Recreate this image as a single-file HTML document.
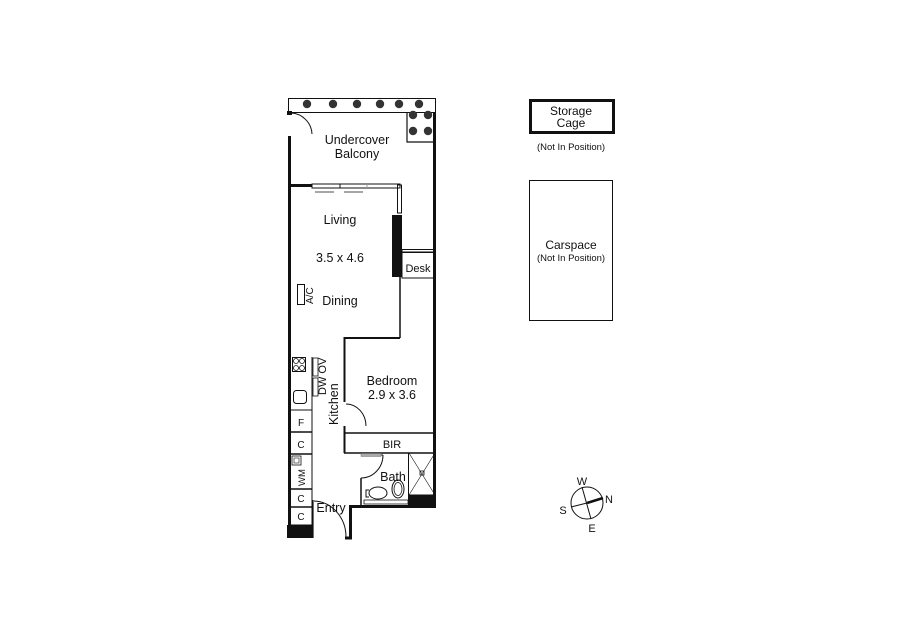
<!DOCTYPE html>
<html><head><style>
html,body{margin:0;padding:0;background:#fff;width:900px;height:635px;overflow:hidden}
svg{display:block}
text{font-family:"Liberation Sans",Arial,sans-serif;fill:#111}
</style></head><body>
<svg width="900" height="635" viewBox="0 0 900 635" xmlns="http://www.w3.org/2000/svg">
<g fill="none" stroke="#111">
<rect x="288.5" y="98.5" width="147" height="14" stroke-width="1"/>
<polyline points="407,112 407,142 435,142" stroke-width="1.2"/>
<line x1="289.5" y1="136" x2="289.5" y2="538" stroke-width="3"/>
<rect x="287" y="111" width="5" height="4" fill="#111" stroke="none"/>
<path d="M291 113 A22 22 0 0 1 312 134" stroke-width="1"/>
<line x1="434.5" y1="112" x2="434.5" y2="508" stroke-width="3"/>
<line x1="290" y1="185.5" x2="312" y2="185.5" stroke-width="3"/>
<rect x="312" y="184" width="88" height="4" stroke-width="1"/>
<line x1="340" y1="184" x2="340" y2="188" stroke-width="1"/>
<line x1="367" y1="184" x2="367" y2="188" stroke-width="1" stroke="#999"/>
<rect x="397.5" y="185" width="4" height="28" stroke-width="1"/>
<line x1="315" y1="192" x2="334" y2="192" stroke-width="0.8"/>
<line x1="344" y1="192" x2="363" y2="192" stroke-width="0.8"/>
<line x1="400" y1="277" x2="400" y2="338" stroke-width="1.5"/>
<polyline points="400,338 344.5,338 344.5,402" stroke-width="2"/>
<path d="M346 404 A20 22 0 0 1 366 426" stroke-width="1"/>
<line x1="344.5" y1="426" x2="344.5" y2="453" stroke-width="2"/>
<rect x="402" y="249.5" width="32" height="3" stroke-width="1"/>
<rect x="402" y="252" width="32" height="26" stroke-width="1"/>
<line x1="344" y1="433" x2="436" y2="433" stroke-width="1.5"/>
<line x1="344" y1="453" x2="436" y2="453" stroke-width="1.5"/>
<line x1="361" y1="478" x2="361" y2="507" stroke-width="1.5"/>
<path d="M361 455 L383 455 M361 478 A22 23 0 0 0 383 455" stroke-width="1"/>
<rect x="361" y="453.5" width="20" height="3" fill="#aaa" stroke="#777" stroke-width="0.5"/>
<rect x="408.5" y="453" width="27" height="42" stroke-width="1"/>
<line x1="409" y1="453" x2="435" y2="495" stroke-width="0.6"/>
<line x1="435" y1="453" x2="409" y2="495" stroke-width="0.6"/>
<rect x="420" y="471" width="4" height="4" stroke-width="0.8"/>
<rect x="364" y="500" width="44" height="4" stroke-width="0.8"/>
<ellipse cx="378" cy="493" rx="9" ry="6" stroke-width="1"/>
<path d="M369 490 L366 490 L366 497 L369 497" stroke-width="1"/>
<ellipse cx="398" cy="489" rx="6" ry="9" stroke-width="1"/>
<ellipse cx="398" cy="489" rx="4" ry="6.5" stroke-width="0.8"/>
<polyline points="436,506.5 350.5,506.5 350.5,538 345,538" stroke-width="3"/>
<path d="M314 501 A33 36 0 0 1 346 537" stroke-width="1"/>
<line x1="313" y1="500" x2="313" y2="538" stroke-width="1.2"/>
<line x1="312" y1="357" x2="312" y2="410" stroke-width="1"/>
<rect x="292.5" y="357.5" width="13" height="14" stroke-width="1"/>
<circle cx="296" cy="361" r="2.5" stroke-width="0.8"/><circle cx="302" cy="361" r="2.5" stroke-width="0.8"/>
<circle cx="296" cy="368" r="2.5" stroke-width="0.8"/><circle cx="302" cy="368" r="2.5" stroke-width="0.8"/>
<rect x="293.5" y="390.5" width="13" height="13" rx="3" stroke-width="1"/>
<rect x="313" y="358" width="5" height="18" stroke-width="0.8"/>
<rect x="313" y="378" width="5" height="18" stroke-width="0.8"/>
<rect x="290" y="410" width="22" height="115" stroke-width="1"/>
<line x1="290" y1="432" x2="312" y2="432" stroke-width="1.5"/>
<line x1="290" y1="454" x2="312" y2="454" stroke-width="1.5"/>
<line x1="290" y1="489" x2="312" y2="489" stroke-width="1.5"/>
<line x1="290" y1="507" x2="312" y2="507" stroke-width="1.5"/>
<rect x="292" y="456" width="9" height="9" stroke-width="0.8"/>
<rect x="294" y="458" width="5" height="5" stroke-width="0.6"/>
<rect x="297.5" y="284.5" width="7" height="20" stroke-width="1"/>
<rect x="530.5" y="100.5" width="83" height="32" stroke-width="3"/>
<rect x="529.5" y="180.5" width="83" height="140" stroke-width="1"/>
<circle cx="587" cy="503" r="16" stroke-width="1"/>
<line x1="582" y1="487" x2="591" y2="519" stroke-width="1"/>
<line x1="571" y1="507" x2="587" y2="503" stroke-width="1"/>
<line x1="587" y1="503" x2="603" y2="498" stroke-width="2.5"/>
</g>
<g fill="#111">
<rect x="392" y="215" width="10" height="62"/>
<rect x="408" y="495" width="28" height="13"/>
<rect x="287" y="525" width="26" height="13"/>
</g>
<g fill="#333" stroke="none">
<circle cx="307" cy="104" r="4.2"/><circle cx="333" cy="104" r="4.2"/><circle cx="357" cy="104" r="4.2"/>
<circle cx="380" cy="104" r="4.2"/><circle cx="399" cy="104" r="4.2"/><circle cx="419" cy="104" r="4.2"/>
<circle cx="413" cy="115" r="4.2"/><circle cx="428" cy="115" r="4.2"/>
<circle cx="413" cy="131" r="4.2"/><circle cx="428" cy="131" r="4.2"/>
</g>
<g font-size="12.5" text-anchor="middle">
<text x="357" y="144">Undercover</text>
<text x="357" y="158">Balcony</text>
<text x="340" y="224">Living</text>
<text x="340" y="262">3.5 x 4.6</text>
<text x="340" y="305">Dining</text>
<text x="392" y="385">Bedroom</text>
<text x="392" y="399">2.9 x 3.6</text>
<text x="392" y="448" font-size="11">BIR</text>
<text x="393" y="481">Bath</text>
<text x="331" y="512">Entry</text>
<text x="418" y="272" font-size="11">Desk</text>
<text x="571" y="115" font-size="12">Storage</text>
<text x="571" y="127" font-size="12">Cage</text>
<text x="571" y="150" font-size="9.5">(Not In Position)</text>
<text x="571" y="249" font-size="12">Carspace</text>
<text x="571" y="261" font-size="9.5">(Not In Position)</text>
<text x="301" y="426" font-size="10">F</text>
<text x="301" y="448" font-size="10">C</text>
<text x="301" y="502" font-size="10">C</text>
<text x="301" y="520" font-size="10">C</text>
<text x="582" y="485" font-size="11">W</text>
<text x="609" y="503" font-size="11">N</text>
<text x="563" y="514" font-size="11">S</text>
<text x="592" y="532" font-size="11">E</text>
</g>
<g font-size="11">
<text transform="translate(338,425) rotate(-90)" font-size="12.5">Kitchen</text>
<text transform="translate(326,395) rotate(-90)" font-size="11">DW OV</text>
<text transform="translate(305,486) rotate(-90)" font-size="9.5">WM</text>
<text transform="translate(313,304) rotate(-90)" font-size="10">A/C</text>
</g>
</svg>
</body></html>
